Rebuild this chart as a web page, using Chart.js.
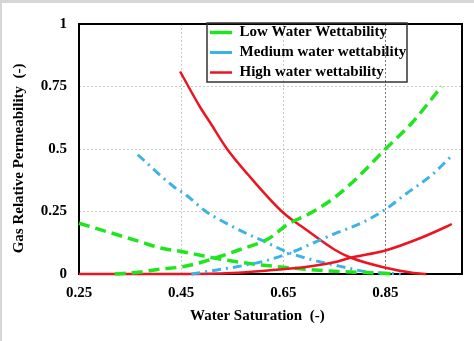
<!DOCTYPE html>
<html>
<head>
<meta charset="utf-8">
<script src="https://cdn.jsdelivr.net/npm/chart.js@4.4.1/dist/chart.umd.min.js"></script>
<style>
  html, body { margin: 0; padding: 0; background: #fff; }
  #wrap { width: 472px; height: 338px; border-top: 3px solid #d6d6d6; border-left: 2px solid #d6d6d6; background: #fff; }
</style>
</head>
<body>
<div id="wrap"><canvas id="chart" width="472" height="338"></canvas></div>
<script>
// tick values
const xTicks = [0.25, 0.45, 0.65, 0.85];
const yTicks = [0, 0.25, 0.5, 0.75, 1];

// low water wettability (two branches)
const lowSwA = [0.32, 0.37, 0.41, 0.45, 0.49, 0.52, 0.56, 0.62, 0.66, 0.70, 0.75, 0.80, 0.85, 0.90, 0.96];
const lowKrA = [0, 0.008, 0.02, 0.028, 0.047, 0.066, 0.094, 0.14, 0.20, 0.24, 0.305, 0.395, 0.50, 0.60, 0.75];
const lowSwB = [0.25, 0.32, 0.37, 0.41, 0.45, 0.49, 0.52, 0.58, 0.65, 0.74, 0.81, 0.87];
const lowKrB = [0.203, 0.16, 0.129, 0.104, 0.09, 0.074, 0.062, 0.043, 0.027, 0.012, 0.006, 0];

// medium water wettability
const medSwA = [0.47, 0.52, 0.575, 0.61, 0.66, 0.71, 0.74, 0.81, 0.85, 0.89, 0.94, 0.98];
const medKrA = [0, 0.016, 0.035, 0.05, 0.082, 0.125, 0.152, 0.211, 0.258, 0.32, 0.395, 0.473];
const medSwB = [0.365, 0.435, 0.46, 0.48, 0.50, 0.53, 0.58, 0.61, 0.66, 0.71, 0.77, 0.81, 0.88];
const medKrB = [0.477, 0.35, 0.316, 0.281, 0.248, 0.212, 0.16, 0.133, 0.086, 0.055, 0.027, 0.01, 0];

// high water wettability
const highSwA = [0.25, 0.45, 0.55, 0.63, 0.69, 0.75, 0.78, 0.85, 0.92, 0.97, 0.98];
const highKrA = [0, 0, 0.004, 0.016, 0.027, 0.047, 0.064, 0.094, 0.145, 0.19, 0.2];
const highSwB = [0.448, 0.487, 0.507, 0.54, 0.58, 0.65, 0.693, 0.75, 0.78, 0.846, 0.905, 0.93];
const highKrB = [0.81, 0.668, 0.605, 0.50, 0.40, 0.245, 0.18, 0.098, 0.067, 0.027, 0.004, 0];

const labels = ['Low Water Wettability', 'Medium water wettability', 'High water wettability'];
const GREEN = '#1fe51f';
const BLUE = '#3cb3e6';
const RED = '#ea1520';
const SERIF = '"Liberation Serif", "Times New Roman", serif';

function pts(xs, ys) {
    return xs.map((x, i) => ({ x: x, y: ys[i] }));
}

function series(label, xs, ys, color, width, dash) {
    return {
        label: label,
        data: pts(xs, ys),
        borderColor: color,
        backgroundColor: color,
        borderWidth: width,
        borderDash: dash,
        pointRadius: 0,
        cubicInterpolationMode: 'monotone',
        clip: 5
    };
}

// border round the plot area, drawn before the lines
const frame = {
    id: 'frame',
    beforeDatasetsDraw(chart) {
        const a = chart.chartArea;
        const ctx = chart.ctx;
        ctx.save();
        ctx.strokeStyle = '#000';
        ctx.lineWidth = 2;
        ctx.strokeRect(a.left, a.top, a.right - a.left, a.bottom - a.top);
        ctx.restore();
    }
};

// put the legend box in the upper right of the plot
const legendBox = {
    id: 'legendBox',
    afterLayout(chart) {
        const lg = chart.legend;
        const a = chart.chartArea;
        lg.left = 203;
        lg.top = 17;
        lg.right = lg.left + lg.width;
        lg.bottom = a.bottom;
    },
    afterDraw(chart) {
        const lg = chart.legend;
        const ctx = chart.ctx;
        ctx.save();
        ctx.strokeStyle = '#333';
        ctx.lineWidth = 1.5;
        ctx.strokeRect(lg.left + 2, lg.top + 3, 200, 59);
        ctx.restore();
    }
};

new Chart(document.getElementById('chart'), {
    type: 'line',
    data: {
        datasets: [
            series(labels[0], lowSwA, lowKrA, GREEN, 3.5, [11, 6]),
            series(labels[1], medSwA, medKrA, BLUE, 3, [9, 5, 2, 5]),
            series(labels[2], highSwA, highKrA, RED, 2.5, []),
            series(labels[0], lowSwB, lowKrB, GREEN, 3.5, [11, 6]),
            series(labels[1], medSwB, medKrB, BLUE, 3, [9, 5, 2, 5]),
            series(labels[2], highSwB, highKrB, RED, 2.5, [])
        ]
    },
    options: {
        responsive: false,
        animation: false,
        layout: { padding: { top: 15, right: 12, left: 0, bottom: 0 } },
        plugins: {
            tooltip: { enabled: false },
            legend: {
                position: 'chartArea',
                align: 'start',
                labels: {
                    filter: (item) => item.datasetIndex < 3,
                    usePointStyle: true,
                    pointStyle: 'line',
                    pointStyleWidth: 22,
                    boxHeight: 14,
                    padding: 5,
                    color: '#000',
                    font: { family: SERIF, size: 15, weight: 'bold' }
                }
            }
        },
        scales: {
            x: {
                type: 'linear',
                min: 0.25,
                max: 1.0,
                afterBuildTicks: (s) => { s.ticks = xTicks.map(v => ({ value: v })); },
                afterFit: (s) => { s.height = 67; },
                border: { display: false, dash: [2, 2] },
                grid: {
                    drawTicks: false,
                    color: (c) => c.tick && c.tick.value === 0.85 ? '#777' : '#c8c8c8',
                    lineWidth: 1
                },
                ticks: {
                    padding: 10,
                    color: '#000',
                    maxRotation: 0,
                    callback: (v) => String(v),
                    font: { family: SERIF, size: 15, weight: 'bold' }
                },
                title: {
                    display: true,
                    text: 'Water Saturation  (-)       ',
                    color: '#000',
                    padding: { top: 0, bottom: 16 },
                    font: { family: SERIF, size: 15, weight: 'bold' }
                }
            },
            y: {
                min: 0,
                max: 1,
                afterBuildTicks: (s) => { s.ticks = yTicks.map(v => ({ value: v })); },
                afterFit: (s) => { s.width = 77; },
                border: { display: false, dash: [2, 2] },
                grid: {
                    drawTicks: false,
                    color: '#cccccc',
                    lineWidth: 1
                },
                ticks: {
                    padding: 12,
                    color: '#000',
                    callback: (v) => String(v),
                    font: { family: SERIF, size: 15, weight: 'bold' }
                },
                title: {
                    display: true,
                    text: 'Gas Relative Permeability  (-)     ',
                    color: '#000',
                    padding: { top: 8, bottom: 0 },
                    font: { family: SERIF, size: 15, weight: 'bold' }
                }
            }
        }
    },
    plugins: [frame, legendBox]
});
</script>
</body>
</html>
